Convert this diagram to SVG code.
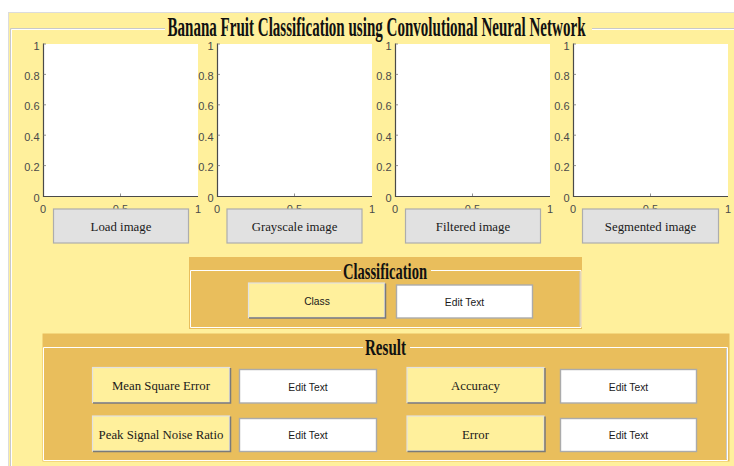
<svg xmlns="http://www.w3.org/2000/svg" xmlns:xlink="http://www.w3.org/1999/xlink" width="734" height="466" viewBox="0 0 734 466">
<style>
.tick{font-family:"Liberation Sans",Arial,sans-serif;font-size:11px;fill:#4a4a4a}
.ye{text-anchor:end}
.xm{text-anchor:middle}
.gbtn{fill:#E1E1E1;stroke:#ADADAD;stroke-width:1.2}
.ybtn{fill:#FFF09C;stroke:#E2E2E2;stroke-width:1.2}
.shadow{fill:none;stroke:#7A7A7A;stroke-width:1.5}
.edit{fill:#FFFFFF;stroke:#ABABAB;stroke-width:1.4}
.serif{font-family:"Liberation Serif","Times New Roman",serif;font-size:12.8px;fill:#1a1a1a;text-anchor:middle}
.sans{font-family:"Liberation Sans",Arial,sans-serif;font-size:10.3px;fill:#1a1a1a;text-anchor:middle}
.ttl{font-family:"Liberation Serif","Times New Roman",serif;font-weight:bold;fill:#111;text-anchor:middle}
.etchW{stroke:#FFFFFF;stroke-width:1;fill:none}
.etchG{stroke:#C9C9C9;stroke-width:1;fill:none}
</style>
<defs>
<g id="ax">
<rect x="0" y="44" width="155" height="152" fill="#FFFFFF"/>
<path d="M0.5,43.5 V196.5 H155" fill="none" stroke="#4a4a4a" stroke-width="1.2"/>
<path d="M0.5,74.4h2.5M0.5,104.8h2.5M0.5,135.2h2.5M0.5,165.6h2.5M0.5,44h2.5M77.5,196v-2.5" stroke="#777" stroke-width="0.8"/>
<text class="tick ye" x="-3.5" y="49.5">1</text>
<text class="tick ye" x="-3.5" y="80">0.8</text>
<text class="tick ye" x="-3.5" y="110.3">0.6</text>
<text class="tick ye" x="-3.5" y="140.7">0.4</text>
<text class="tick ye" x="-3.5" y="171">0.2</text>
<text class="tick ye" x="-3.5" y="201.5">0</text>
<text class="tick xm" x="0" y="212.5">0</text>
<text class="tick xm" x="77.5" y="212.5">0.5</text>
<text class="tick xm" x="155" y="212.5">1</text>
</g>
</defs>
<rect width="734" height="466" fill="#FFFFFF"/>
<g id="main-panel">
<rect x="8.5" y="12.5" width="730" height="460" fill="#FFF09C" stroke="#DCDCDC" stroke-width="1"/>
<path class="etchG" d="M165,28.5 H10.5 V466 M592,28.5 H734"/>
<path class="etchW" d="M165,29.5 H11.5 V466 M592,29.5 H734"/>
<text class="ttl" transform="translate(376.5,35.5) scale(0.55,1)" x="0" y="0" font-size="28" textLength="760" lengthAdjust="spacingAndGlyphs">Banana Fruit Classification using Convolutional Neural Network</text>
</g>
<g id="axes1"><use xlink:href="#ax" x="43"/></g>
<g id="axes2"><use xlink:href="#ax" x="217"/></g>
<g id="axes3"><use xlink:href="#ax" x="395"/></g>
<g id="axes4"><use xlink:href="#ax" x="573"/></g>
<g id="btn-load"><rect class="gbtn" x="53.5" y="209" width="135" height="34"/><text class="serif" x="121" y="231">Load image</text></g>
<g id="btn-gray"><rect class="gbtn" x="227" y="209" width="135" height="34"/><text class="serif" x="294.5" y="231">Grayscale image</text></g>
<g id="btn-filter"><rect class="gbtn" x="405.5" y="209" width="135" height="34"/><text class="serif" x="473" y="231">Filtered image</text></g>
<g id="btn-seg"><rect class="gbtn" x="582.5" y="209" width="136" height="34"/><text class="serif" x="650.5" y="231">Segmented image</text></g>
<g id="classification-panel">
<rect x="189" y="257" width="393" height="72" fill="#E9BE5C"/>
<path class="etchW" d="M341,270.5 H190.5 V327.5 H581 V270.5 H431"/>
<path class="etchG" d="M580,271.5 V326.5"/>
<text class="ttl" x="385" y="278.5" font-size="24" textLength="84" lengthAdjust="spacingAndGlyphs">Classification</text>
</g>
<g id="btn-class"><rect class="ybtn" x="248.5" y="283" width="136" height="34.5"/><path class="shadow" d="M249,318 H385.5 V283.5"/><text class="sans" x="317" y="305" font-size="11">Class</text></g>
<g id="edit-class"><rect class="edit" x="396.5" y="285" width="136" height="33"/><text class="sans" x="464.5" y="306">Edit Text</text></g>
<g id="result-panel">
<rect x="42.5" y="333.5" width="687" height="128" fill="#E9BE5C"/>
<path class="etchW" d="M363,347.5 H43.5 V460.5 H727.5 V347.5 H410"/>
<path class="etchG" d="M726.5,348.5 V459.5"/>
<text class="ttl" x="385.5" y="354.5" font-size="23" textLength="41" lengthAdjust="spacingAndGlyphs">Result</text>
</g>
<g id="btn-mse"><rect class="ybtn" x="92.5" y="367.5" width="137" height="35"/><path class="shadow" d="M93,403 H230.5 V368"/><text class="serif" x="161" y="390">Mean Square Error</text></g>
<g id="edit-mse"><rect class="edit" x="239.5" y="369.5" width="137" height="33.5"/><text class="sans" x="308" y="390.5">Edit Text</text></g>
<g id="btn-psnr"><rect class="ybtn" x="92.5" y="416" width="137" height="35"/><path class="shadow" d="M93,451.5 H230.5 V416.5"/><text class="serif" x="161" y="438.5">Peak Signal Noise Ratio</text></g>
<g id="edit-psnr"><rect class="edit" x="239.5" y="418.5" width="137" height="33"/><text class="sans" x="308" y="439">Edit Text</text></g>
<g id="btn-acc"><rect class="ybtn" x="407" y="367.5" width="137" height="35"/><path class="shadow" d="M407.5,403 H545 V368"/><text class="serif" x="475.5" y="390">Accuracy</text></g>
<g id="edit-acc"><rect class="edit" x="560.5" y="369.5" width="136" height="33.5"/><text class="sans" x="628.5" y="390.5">Edit Text</text></g>
<g id="btn-err"><rect class="ybtn" x="407" y="416" width="137" height="35"/><path class="shadow" d="M407.5,451.5 H545 V416.5"/><text class="serif" x="475.5" y="438.5">Error</text></g>
<g id="edit-err"><rect class="edit" x="560.5" y="418.5" width="136" height="33"/><text class="sans" x="628.5" y="439">Edit Text</text></g>
</svg>
